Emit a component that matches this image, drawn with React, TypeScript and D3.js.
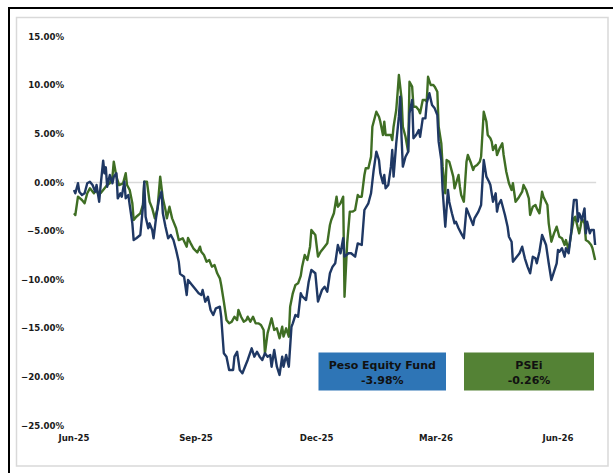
import React from "react";
import * as d3 from "d3";

const START = "2025-06-01";
const xTickDates = ["2025-06-01", "2025-09-01", "2025-12-01", "2026-03-01", "2026-06-01"];
const xTickLabels = ["Jun-25", "Sep-25", "Dec-25", "Mar-26", "Jun-26"];
const yTicks = [15, 10, 5, 0, -5, -10, -15, -20, -25];

// Peso Equity Fund: days after START, cumulative return (%)
const fundDays = [0, 1, 3, 4, 6, 8, 10, 12, 14, 16, 17, 19, 20, 22, 23, 24, 25, 27, 29, 30, 32, 33, 35, 36, 38, 39, 41, 42, 44, 45, 47, 50, 52, 53, 54, 56, 57, 59, 60, 62, 64, 66, 67, 69, 71, 73, 75, 77, 79, 80, 83, 85, 86, 89, 91, 94, 96, 97, 99, 101, 103, 105, 107, 110, 111, 113, 115, 117, 120, 121, 123, 125, 127, 130, 131, 134, 136, 138, 140, 142, 144, 146, 148, 149, 151, 153, 155, 157, 158, 160, 162, 164, 165, 167, 169, 171, 172, 175, 177, 179, 182, 184, 187, 189, 191, 193, 195, 197, 199, 201, 203, 204, 207, 209, 212, 214, 217, 219, 222, 224, 226, 228, 230, 231, 233, 234, 235, 237, 239, 240, 241, 243, 245, 246, 247, 248, 250, 252, 253, 255, 256, 258, 260, 261, 263, 265, 266, 268, 270, 272, 274, 275, 277, 278, 280, 282, 283, 285, 287, 288, 290, 292, 294, 296, 297, 299, 301, 302, 305, 307, 309, 311, 313, 314, 316, 318, 319, 320, 322, 323, 325, 327, 328, 330, 331, 333, 336, 338, 340, 342, 344, 346, 348, 349, 351, 353, 354, 356, 358, 360, 362, 364, 365, 366, 368, 370, 371, 373, 375, 376, 377, 379, 380, 381, 383, 385, 386, 387, 389, 390, 392, 393];
const fundValues = [-0.77, -1.11, -0.08, -0.95, -1.29, -1.11, -0.08, 0.08, -0.26, -0.95, -0.26, -1.98, -0.43, 2.24, 0.95, 1.56, -0.43, 0.77, -0.08, 0.6, 0.95, -1.63, -1.11, -1.46, 0.08, -1.63, -1.29, -2.31, -4.2, -5.92, -5.74, -5.4, -2.49, 0.08, -3.52, -4.71, -4.2, -4.89, -5.74, -3.52, -1.8, -0.95, -3.17, -4.55, -5.74, -5.4, -5.92, -6.94, -8.15, -9.4, -9.69, -11.57, -10.03, -10.54, -10.88, -11.4, -11.57, -11.06, -12.26, -11.75, -13.12, -13.63, -12.94, -12.78, -13.81, -17.57, -17.92, -19.29, -19.29, -17.92, -17.41, -19.29, -19.63, -18.6, -18.26, -17.06, -17.92, -17.41, -17.92, -18.26, -17.57, -17.92, -17.75, -18.95, -17.23, -18.95, -19.8, -17.92, -18.95, -17.75, -18.95, -14.84, -14.49, -13.63, -13.81, -11.4, -11.7, -12.09, -10.2, -9.0, -9.34, -12.26, -11.06, -10.72, -11.23, -9.34, -8.66, -8.31, -6.43, -7.28, -5.74, -7.63, -7.28, -7.28, -7.63, -6.26, -6.43, -2.83, -2.14, -1.11, 1.29, 3.17, 2.31, 0.95, -0.08, 0.77, -0.6, -0.26, 1.63, 3.34, 0.6, 4.03, 6.77, 8.83, 4.71, 1.63, 2.65, 3.17, 7.12, 8.49, 4.55, 4.89, 5.4, 4.71, 6.6, 6.6, 8.15, 9.18, 7.97, 7.63, 6.94, 4.2, 2.31, -0.8, -4.55, -0.77, -2.0, -3.17, -4.2, -4.03, -4.71, -5.23, -5.74, -2.66, -3.0, -3.69, -4.37, -3.69, -3.0, -2.31, 2.31, 0.6, 0.08, -0.26, -1.98, -1.11, -3.0, -2.31, -1.8, -2.31, -3.34, -4.55, -5.58, -6.09, -8.15, -7.8, -7.28, -6.6, -7.8, -8.66, -9.34, -7.63, -7.8, -8.31, -7.12, -5.4, -5.74, -6.43, -8.31, -10.03, -9.18, -8.31, -6.94, -7.12, -6.77, -7.63, -6.77, -7.28, -5.06, -3.17, -1.8, -1.8, -4.03, -3.17, -3.86, -2.66, -5.23, -4.03, -5.23, -4.89, -4.89, -6.43];

// PSEi: days after START, cumulative return (%)
const pseiDays = [0, 1, 3, 6, 8, 10, 12, 15, 17, 18, 20, 22, 25, 27, 29, 30, 32, 34, 37, 39, 40, 42, 44, 45, 47, 50, 52, 53, 55, 57, 59, 61, 63, 65, 67, 69, 70, 72, 74, 77, 79, 82, 85, 86, 88, 90, 93, 95, 96, 98, 100, 102, 104, 106, 108, 110, 111, 113, 115, 117, 119, 121, 123, 124, 126, 128, 130, 131, 133, 135, 137, 139, 141, 143, 144, 146, 147, 149, 151, 153, 155, 157, 158, 160, 162, 163, 165, 167, 169, 171, 172, 174, 176, 178, 179, 182, 184, 186, 189, 191, 193, 194, 196, 198, 199, 201, 203, 204, 206, 208, 210, 212, 214, 215, 217, 219, 220, 222, 224, 225, 228, 230, 231, 233, 234, 235, 237, 239, 240, 241, 243, 244, 245, 247, 248, 250, 252, 253, 255, 256, 258, 260, 261, 263, 265, 266, 267, 269, 271, 272, 274, 275, 277, 278, 280, 281, 283, 284, 286, 287, 290, 291, 292, 294, 296, 297, 299, 301, 302, 304, 306, 307, 309, 311, 312, 314, 315, 316, 318, 319, 321, 323, 324, 326, 328, 330, 331, 333, 335, 338, 339, 341, 343, 344, 346, 348, 349, 351, 353, 354, 357, 358, 360, 362, 364, 366, 368, 370, 371, 373, 375, 377, 378, 380, 381, 382, 383, 385, 386, 388, 390, 391, 393];
const pseiValues = [-3.17, -3.34, -1.46, -1.8, -2.14, -1.11, -0.6, -1.11, -0.7, -1.11, -1.11, -0.77, -0.26, -0.08, 0.6, 2.14, 0.6, -0.26, -0.08, 0.95, -0.26, -0.77, -2.14, -3.86, -3.52, -3.17, -2.31, 0.08, 0.08, -1.98, -2.66, -3.69, -2.66, 0.6, -1.63, -2.83, -3.69, -2.49, -3.69, -4.71, -5.92, -5.74, -6.6, -5.7, -6.26, -6.77, -7.2, -6.6, -7.12, -7.46, -8.15, -7.97, -8.66, -8.49, -9.34, -9.86, -10.54, -12.26, -14.15, -14.49, -14.32, -13.81, -14.15, -13.12, -13.81, -14.32, -14.15, -13.81, -14.32, -13.81, -14.49, -14.49, -14.66, -15.17, -17.57, -15.5, -15.0, -13.97, -15.17, -15.0, -16.03, -14.84, -15.86, -15.0, -15.86, -12.78, -11.4, -10.54, -10.37, -9.6, -8.7, -7.46, -7.97, -6.6, -4.89, -5.4, -7.63, -7.12, -6.6, -6.26, -4.37, -3.86, -3.17, -1.46, -2.49, -2.14, -1.46, -11.75, -6.26, -3.0, -3.0, -2.83, -1.29, -1.46, -1.46, 0.77, 1.46, 1.46, 2.65, 5.74, 7.28, 6.77, 6.26, 4.89, 6.26, 4.89, 4.89, 4.89, 4.37, 5.74, 7.46, 9.18, 11.06, 8.66, 5.74, 4.71, 3.17, 10.37, 9.86, 7.8, 7.8, 7.46, 7.12, 8.49, 8.49, 8.31, 10.88, 10.03, 10.03, 9.86, 9.34, 5.74, 4.03, 1.63, -1.11, 2.31, 2.14, 1.63, 0.6, -0.6, 0.77, -0.43, -1.29, -1.98, 2.14, 2.83, 2.14, 1.29, 1.63, 1.8, 2.14, 2.65, 7.28, 6.26, 4.89, 4.55, 4.2, 3.34, 3.86, 2.83, 3.52, 4.03, 2.83, 1.11, -0.08, -0.77, -0.08, -1.98, -1.63, -0.95, -0.26, -0.77, -1.63, -3.34, -2.49, -2.31, -2.66, -3.17, -0.95, -1.46, -2.31, -4.2, -6.09, -5.23, -4.55, -5.58, -5.74, -6.43, -5.92, -6.94, -5.23, -3.69, -3.52, -4.71, -5.23, -4.55, -3.69, -4.2, -5.92, -6.09, -6.43, -6.77, -7.97];

const legendNames = ["Peso Equity Fund", "PSEi"];
const legendValues = ["-3.98%", "-0.26%"];

const W = 613;
const H = 473;
const FONT = "'DejaVu Sans', 'Open Sans', sans-serif";

export default function App() {
  const start = d3.timeParse("%Y-%m-%d")(START) as Date;
  const x = d3
    .scaleTime()
    .domain([start, d3.timeParse("%Y-%m-%d")("2026-06-01") as Date])
    .range([74, 558]);
  const y = d3.scaleLinear().domain([-25, 15]).range([425.5, 36.7]);

  const toPts = (days: number[], vals: number[]) =>
    days.map((d, i) => ({ date: d3.timeDay.offset(start, d), v: vals[i] }));
  const line = d3
    .line<{ date: Date; v: number }>()
    .x((d) => x(d.date))
    .y((d) => y(d.v));

  const fund = toPts(fundDays, fundValues);
  const psei = toPts(pseiDays, pseiValues);
  const xMin = x(fund[0].date);
  const xMax = x(fund[fund.length - 1].date);

  const legendBoxes = [
    { x0: 318.5, x1: 446, fill: "#2e75b6" },
    { x0: 464, x1: 594, fill: "#548235" },
  ];

  return (
    <svg
      width={W}
      height={H}
      style={{ position: "fixed", left: 0, top: 0, display: "block", background: "#fff" }}
    >
      <rect x={0} y={0} width={W} height={H} fill="#fff" />
      {/* outer black frame */}
      <line x1={9} y1={8} x2={W + 2} y2={8} stroke="#000" strokeWidth={2} />
      <line x1={9} y1={7} x2={9} y2={H + 2} stroke="#000" strokeWidth={2} />
      {/* inner grey frame */}
      <rect x={16.5} y={17.5} width={591.5} height={448.5} fill="none" stroke="#d9d9d9" strokeWidth={1.5} />

      {/* zero gridline */}
      <line x1={xMin} x2={xMax + 1} y1={y(0)} y2={y(0)} stroke="#d9d9d9" strokeWidth={1.3} />

      {/* y axis labels */}
      {yTicks.map((t) => (
        <text
          key={t}
          x={64}
          y={y(t)}
          textAnchor="end"
          dominantBaseline="central"
          fontFamily={FONT}
          fontWeight={700}
          fontSize={8.6}
          fill="#1a1a1a"
        >
          {d3.format(".2f")(t) + "%"}
        </text>
      ))}

      {/* x axis labels */}
      {xTickDates.map((d, i) => (
        <text
          key={d}
          x={x(d3.timeParse("%Y-%m-%d")(d) as Date)}
          y={438}
          textAnchor="middle"
          dominantBaseline="central"
          fontFamily={FONT}
          fontWeight={700}
          fontSize={8.6}
          fill="#1a1a1a"
        >
          {xTickLabels[i]}
        </text>
      ))}

      {/* series */}
      <path d={line(psei) || ""} fill="none" stroke="#3f6e24" strokeWidth={2.4} strokeLinejoin="round" />
      <path d={line(fund) || ""} fill="none" stroke="#1f3864" strokeWidth={2.4} strokeLinejoin="round" />

      {/* legend boxes */}
      {legendBoxes.map((b, i) => (
        <g key={i}>
          <rect x={b.x0} y={352.5} width={b.x1 - b.x0} height={38} fill={b.fill} />
          <text
            x={(b.x0 + b.x1) / 2}
            y={365.5}
            textAnchor="middle"
            dominantBaseline="central"
            fontFamily={FONT}
            fontWeight={700}
            fontSize={11}
            fill="#111"
          >
            {legendNames[i]}
          </text>
          <text
            x={(b.x0 + b.x1) / 2}
            y={380}
            textAnchor="middle"
            dominantBaseline="central"
            fontFamily={FONT}
            fontWeight={700}
            fontSize={11}
            fill="#111"
          >
            {legendValues[i]}
          </text>
        </g>
      ))}
    </svg>
  );
}
